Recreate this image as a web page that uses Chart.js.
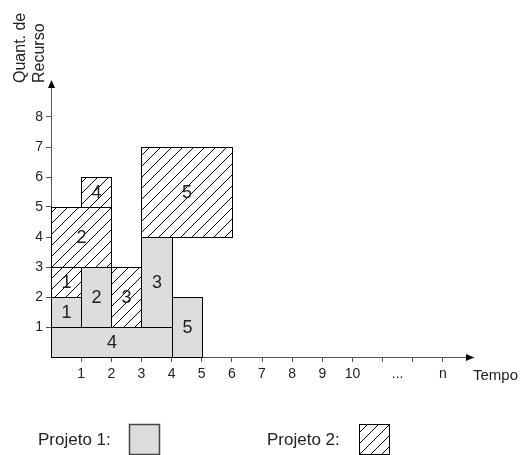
<!DOCTYPE html>
<html><head><meta charset="utf-8">
<script src="https://cdn.jsdelivr.net/npm/chart.js@4"></script>
<style>html,body{margin:0;padding:0;background:#fff}#wrap{width:521px;height:455px}</style>
</head><body><div id="wrap"><canvas id="c" width="521" height="455"></canvas></div>
<script>
// ---- data ----
const xTickValues = [1,2,3,4,5,6,7,8,9,10,11,11.5,12,13];
const xTickLabels = ['1','2','3','4','5','6','7','8','9','10','','...','','n'];
const yTickValues = [1,2,3,4,5,6,7,8];
const yTickLabels = ['1','2','3','4','5','6','7','8'];

const p1Names = ['1','2','3','4','5'];
const p1XFrom = [0,1,3,0,4];
const p1XTo   = [1,2,4,4,5];
const p1YFrom = [1,1,1,0,0];
const p1YTo   = [2,3,4,1,2];

const p2Names = ['1','2','3','4','5'];
const p2XFrom = [0,0,2,1,3];
const p2XTo   = [1,2,3,2,6];
const p2YFrom = [2,3,1,5,4];
const p2YTo   = [3,5,3,6,7];

const legendLabels = ['Projeto 1:','Projeto 2:'];
const xTitle = 'Tempo';
const yTitle = ['Quant. de','Recurso'];

// ---- styles ----
const FONT = '"Liberation Sans", Arial, sans-serif';
const GRAY = '#dcdcdc';

function makeHatch(){
  const s = 11;
  const c = document.createElement('canvas');
  c.width = s; c.height = s;
  const g = c.getContext('2d');
  g.fillStyle = '#fff'; g.fillRect(0,0,s,s);
  g.strokeStyle = '#000'; g.lineWidth = 1;
  g.beginPath();
  g.moveTo(-1,s+1); g.lineTo(s+1,-1);
  g.moveTo(-1,1); g.lineTo(1,-1);
  g.moveTo(s-1,s+1); g.lineTo(s+1,s-1);
  g.stroke();
  return c;
}

const rectPlugin = {
  id: 'rects',
  afterDatasetsDraw(chart){
    const ctx = chart.ctx;
    const xs = chart.scales.x, ys = chart.scales.y;
    const hatch = ctx.createPattern(makeHatch(), 'repeat');
    function drawSet(names, x0s, x1s, y0s, y1s, fill){
      names.forEach((n,i)=>{
        const l = Math.round(xs.getPixelForValue(x0s[i]))+0.5;
        const r = Math.round(xs.getPixelForValue(x1s[i]))+0.5;
        const t = Math.round(ys.getPixelForValue(y1s[i]))+0.5;
        const b = Math.round(ys.getPixelForValue(y0s[i]))+0.5;
        ctx.save();
        ctx.fillStyle = fill;
        ctx.fillRect(l,t,r-l,b-t);
        ctx.strokeStyle = '#000'; ctx.lineWidth = 1;
        ctx.strokeRect(l,t,r-l,b-t);
        ctx.fillStyle = '#222';
        ctx.font = '18px ' + FONT;
        ctx.textAlign = 'center'; ctx.textBaseline = 'middle';
        ctx.fillText(n, (l+r)/2, (t+b)/2+1);
        ctx.restore();
      });
    }
    drawSet(p1Names, p1XFrom, p1XTo, p1YFrom, p1YTo, GRAY);
    drawSet(p2Names, p2XFrom, p2XTo, p2YFrom, p2YTo, hatch);

    const ca = chart.chartArea;
    ctx.save();
    ctx.fillStyle = '#000';
    // x arrow
    const ay = Math.round(ca.bottom)+0.5;
    ctx.beginPath();
    ctx.moveTo(ca.right+1, ay); ctx.lineTo(ca.right-7, ay-3.5); ctx.lineTo(ca.right-7, ay+3.5); ctx.closePath(); ctx.fill();
    // y arrow
    const ax = Math.round(ca.left)+0.5;
    ctx.beginPath();
    ctx.moveTo(ax, ca.top-1); ctx.lineTo(ax-3.5, ca.top+7); ctx.lineTo(ax+3.5, ca.top+7); ctx.closePath(); ctx.fill();

    // titles
    ctx.fillStyle = '#222';
    ctx.font = '15px ' + FONT;
    ctx.textAlign = 'left'; ctx.textBaseline = 'middle';
    ctx.fillText(xTitle, ca.right, ca.bottom+19);
    ctx.font = '16px ' + FONT;
    ctx.save();
    ctx.translate(0, ca.top+2);
    ctx.rotate(-Math.PI/2);
    ctx.textBaseline = 'alphabetic';
    ctx.fillText(yTitle[0], 0, 25);
    ctx.fillText(yTitle[1], 0, 44);
    ctx.restore();

    // legend
    ctx.font = '17px ' + FONT;
    ctx.textBaseline = 'middle';
    ctx.fillText(legendLabels[0], 38, 440);
    ctx.fillText(legendLabels[1], 267, 440);
    ctx.fillStyle = GRAY;
    ctx.fillRect(129.5, 424.5, 30, 30);
    ctx.strokeStyle = '#444'; ctx.lineWidth = 1.5;
    ctx.strokeRect(129.5, 424.5, 30, 30);
    ctx.fillStyle = hatch;
    ctx.fillRect(359.5, 424.5, 30, 30);
    ctx.strokeStyle = '#000'; ctx.lineWidth = 1;
    ctx.strokeRect(359.5, 424.5, 30, 30);
    ctx.restore();
  }
};

const tickFont = {family: FONT, size: 14};
new Chart(document.getElementById('c'), {
  type: 'scatter',
  data: {datasets: [{data: [], pointRadius: 0}]},
  plugins: [rectPlugin],
  options: {
    responsive: false,
    animation: false,
    devicePixelRatio: 1,
    layout: {padding: {top: 81, right: 48, left: 0, bottom: 0}},
    plugins: {legend: {display: false}, tooltip: {enabled: false}},
    scales: {
      x: {
        type: 'linear', min: 0, max: 14,
        afterBuildTicks: s => { s.ticks = xTickValues.map(v => ({value: v})); },
        afterFit: s => { s.height = 98; },
        ticks: {
          autoSkip: false, maxRotation: 0, padding: 4, color: '#222', font: tickFont,
          callback: (v) => xTickLabels[xTickValues.indexOf(v)]
        },
        grid: {
          drawOnChartArea: false, drawTicks: true, tickLength: 5,
          color: c => (c.tick && c.tick.value === 11.5) ? 'rgba(0,0,0,0)' : '#555'
        },
        border: {display: true, color: '#555', width: 1}
      },
      y: {
        type: 'linear', min: 0, max: 9.2,
        afterBuildTicks: s => { s.ticks = yTickValues.map(v => ({value: v})); },
        afterFit: s => { s.width = 51; },
        ticks: {
          autoSkip: false, padding: 3, color: '#222', font: tickFont,
          callback: (v) => yTickLabels[yTickValues.indexOf(v)]
        },
        grid: {drawOnChartArea: false, drawTicks: true, tickLength: 5, color: '#555'},
        border: {display: true, color: '#555', width: 1}
      }
    }
  }
});
</script></body></html>
